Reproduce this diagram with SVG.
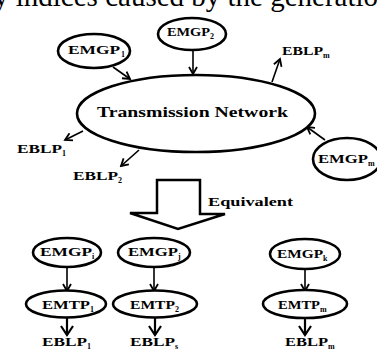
<svg xmlns="http://www.w3.org/2000/svg" width="377" height="351" viewBox="0 0 377 351">
<defs>
<style>
.n{fill:#fff;stroke:#000;stroke-width:2.6}
.t{font-family:"Liberation Serif","Times New Roman",serif;font-weight:bold;fill:#000}
.s{font-family:"Liberation Serif","Times New Roman",serif;font-weight:bold;fill:#000;font-size:8px}
.c{stroke:#000;stroke-width:1.6;fill:none}
.cb{stroke:#000;stroke-width:2.2;fill:none}
</style>
<marker id="ah" markerWidth="10" markerHeight="10" refX="8" refY="5" orient="auto" markerUnits="userSpaceOnUse">
<polyline points="1,1 8,5 1,9" fill="none" stroke="#000" stroke-width="1.8"/>
</marker>
<marker id="ahb" markerWidth="14" markerHeight="14" refX="11" refY="7" orient="auto" markerUnits="userSpaceOnUse">
<polyline points="2,1 11,7 2,13" fill="none" stroke="#000" stroke-width="2.2"/>
</marker>
</defs>
<rect width="377" height="351" fill="#fff"/>
<text x="-6" y="6" font-family="Liberation Serif,serif" font-size="29" fill="#000">y indices caused by the generation</text>

<g id="connectors">
<line class="c" x1="113" y1="67" x2="130" y2="79" marker-end="url(#ah)"/>
<line class="c" x1="193" y1="50" x2="193" y2="74" marker-end="url(#ah)"/>
<line class="c" x1="272" y1="82" x2="280" y2="59" marker-end="url(#ah)"/>
<line class="c" x1="83" y1="131" x2="65" y2="140" marker-end="url(#ah)"/>
<line class="c" x1="139" y1="150" x2="121" y2="166" marker-end="url(#ah)"/>
<line class="c" x1="325" y1="140" x2="307" y2="127" marker-end="url(#ah)"/>
<line class="c" x1="67" y1="267" x2="67" y2="291" marker-end="url(#ah)"/>
<line class="c" x1="154" y1="267" x2="154" y2="291" marker-end="url(#ah)"/>
<line class="c" x1="305" y1="269" x2="305" y2="291" marker-end="url(#ah)"/>
<line class="cb" x1="67" y1="318" x2="67" y2="335" marker-end="url(#ahb)"/>
<line class="cb" x1="155" y1="318" x2="155" y2="335" marker-end="url(#ahb)"/>
<line class="cb" x1="305" y1="318" x2="305" y2="335" marker-end="url(#ahb)"/>
</g>

<g id="network">
<ellipse class="n" cx="196" cy="113.5" rx="119" ry="38.5"/>
<text class="t" x="97" y="117" font-size="15" textLength="191" lengthAdjust="spacingAndGlyphs">Transmission Network</text>
</g>
<g id="emgp1">
<ellipse class="n" cx="94" cy="51" rx="36" ry="17"/>
<text class="t" x="68" y="54" font-size="12.5" textLength="52" lengthAdjust="spacingAndGlyphs">EMGP</text>
<text class="s" x="121" y="57">1</text>
</g>
<g id="emgp2">
<ellipse class="n" cx="192" cy="34" rx="34" ry="16"/>
<text class="t" x="167" y="36" font-size="12.5" textLength="43" lengthAdjust="spacingAndGlyphs">EMGP</text>
<text class="s" x="210" y="39">2</text>
</g>
<g id="emgpm">
<ellipse class="n" cx="347" cy="159" rx="34" ry="21"/>
<text class="t" x="318" y="163" font-size="12.5" textLength="50" lengthAdjust="spacingAndGlyphs">EMGP</text>
<text class="s" x="368" y="166">m</text>
</g>
<g id="eblpm-top">
<text class="t" x="282" y="55" font-size="12" textLength="41" lengthAdjust="spacingAndGlyphs">EBLP</text>
<text class="s" x="323" y="58">m</text>
</g>
<g id="eblp1-top">
<text class="t" x="17" y="153" font-size="12" textLength="45" lengthAdjust="spacingAndGlyphs">EBLP</text>
<text class="s" x="62" y="156">1</text>
</g>
<g id="eblp2-top">
<text class="t" x="73" y="180" font-size="12" textLength="45" lengthAdjust="spacingAndGlyphs">EBLP</text>
<text class="s" x="118" y="183">2</text>
</g>

<g id="equivalent">
<polygon points="157,180 200,180 200,214 225,214 178,229 130,213 157,213" fill="#fff" stroke="#000" stroke-width="2.5" stroke-linejoin="miter"/>
<text class="t" x="208" y="206" font-size="13" textLength="85" lengthAdjust="spacingAndGlyphs">Equivalent</text>
</g>

<g id="emgpi">
<ellipse class="n" cx="67" cy="252.5" rx="34" ry="14.5"/>
<text class="t" x="40" y="256" font-size="12.5" textLength="52" lengthAdjust="spacingAndGlyphs">EMGP</text>
<text class="s" x="92" y="259">i</text>
</g>
<g id="emtp1">
<ellipse class="n" cx="66" cy="304" rx="40" ry="13.5"/>
<text class="t" x="42" y="309" font-size="12.5" textLength="48" lengthAdjust="spacingAndGlyphs">EMTP</text>
<text class="s" x="90" y="312">1</text>
</g>
<g id="eblp1">
<text class="t" x="42" y="346" font-size="12" textLength="45" lengthAdjust="spacingAndGlyphs">EBLP</text>
<text class="s" x="87" y="349">1</text>
</g>
<g id="emgpj">
<ellipse class="n" cx="154" cy="252.5" rx="36" ry="14.5"/>
<text class="t" x="128" y="256" font-size="12.5" textLength="50" lengthAdjust="spacingAndGlyphs">EMGP</text>
<text class="s" x="178" y="259">j</text>
</g>
<g id="emtp2">
<ellipse class="n" cx="155" cy="304" rx="42" ry="13.5"/>
<text class="t" x="130" y="309" font-size="12.5" textLength="45" lengthAdjust="spacingAndGlyphs">EMTP</text>
<text class="s" x="175" y="312">2</text>
</g>
<g id="eblps">
<text class="t" x="130" y="346" font-size="12" textLength="45" lengthAdjust="spacingAndGlyphs">EBLP</text>
<text class="s" x="175" y="349">s</text>
</g>
<g id="emgpk">
<ellipse class="n" cx="305" cy="254" rx="35" ry="15"/>
<text class="t" x="277" y="258" font-size="12.5" textLength="46" lengthAdjust="spacingAndGlyphs">EMGP</text>
<text class="s" x="323" y="261">k</text>
</g>
<g id="emtpm">
<ellipse class="n" cx="305" cy="304" rx="42" ry="14"/>
<text class="t" x="278" y="309" font-size="12.5" textLength="42" lengthAdjust="spacingAndGlyphs">EMTP</text>
<text class="s" x="320" y="312">m</text>
</g>
<g id="eblpm">
<text class="t" x="285" y="346" font-size="12" textLength="43" lengthAdjust="spacingAndGlyphs">EBLP</text>
<text class="s" x="328" y="349">m</text>
</g>
</svg>
